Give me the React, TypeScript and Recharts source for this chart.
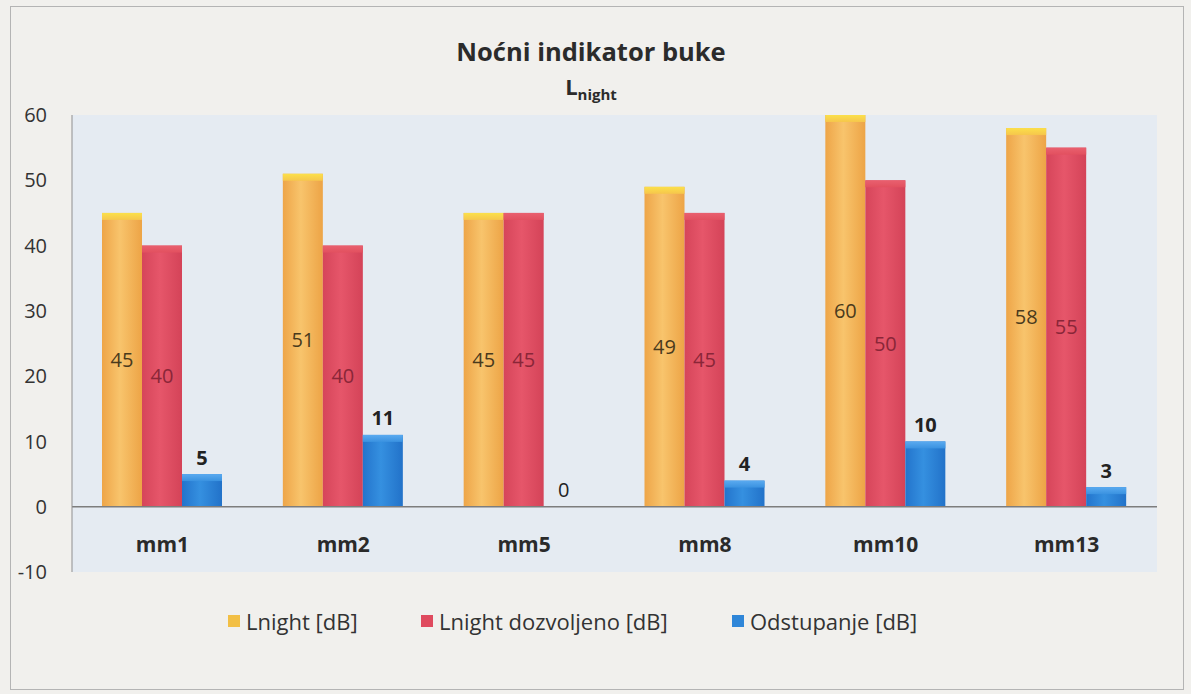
import React from "react";
import {
  BarChart,
  Bar,
  XAxis,
  YAxis,
  CartesianGrid,
  ReferenceLine,
  LabelList,
  Legend,
} from "recharts";

const categories = ["mm1", "mm2", "mm5", "mm8", "mm10", "mm13"];
const lnight = [45, 51, 45, 49, 60, 58];
const lnightAllowed = [40, 40, 45, 45, 50, 55];
const deviation = [5, 11, 0, 4, 10, 3];
const yTicks = [-10, 0, 10, 20, 30, 40, 50, 60];
const seriesNames = ["Lnight [dB]", "Lnight dozvoljeno [dB]", "Odstupanje [dB]"];

const data = categories.map((c, i) => ({
  name: c,
  lnight: lnight[i],
  allowed: lnightAllowed[i],
  dev: deviation[i],
}));

const FONT = "'Open Sans', Lato, sans-serif";

const makeShape = (grad: string, cap: string) => (props: any) => {
  const { x, y, width, height } = props;
  if (!height || height <= 0) return <g />;
  const capH = Math.min(7, height);
  return (
    <g>
      <rect x={x} y={y} width={width} height={height} fill={`url(#${grad})`} />
      <rect x={x} y={y} width={width} height={capH} fill={`url(#${cap})`} />
    </g>
  );
};

const orangeShape = makeShape("gOrange", "cOrange");
const redShape = makeShape("gRed", "cRed");
const blueShape = makeShape("gBlue", "cBlue");

const CatTick = (props: any) => {
  const { x, y, payload } = props;
  return (
    <text
      x={x}
      y={y - 27}
      dy="0.35em"
      textAnchor="middle"
      fontFamily={FONT}
      fontWeight={700}
      fontSize={21}
      fill="#2a2a2a"
    >
      {payload.value}
    </text>
  );
};

const BlueLabel = (props: any) => {
  const { x, y, width, value } = props;
  return (
    <text
      x={x + width / 2}
      y={y - 17}
      textAnchor="middle"
      dominantBaseline="central"
      fontFamily={FONT}
      fontWeight={value === 0 ? 400 : 700}
      fontSize={20}
      fill="#222"
    >
      {value}
    </text>
  );
};

const legendColors = ["#f2bf45", "#df4a5e", "#2f86d8"];
const legendWidths = [193, 311, 260];

const LegendContent = () => (
  <div style={{ display: "flex", alignItems: "center", fontFamily: FONT, fontSize: 22, color: "#333" }}>
    {seriesNames.map((n, i) => (
      <div key={n} style={{ display: "flex", alignItems: "center", width: legendWidths[i] }}>
        <span
          style={{
            display: "inline-block",
            width: 12,
            height: 12,
            background: legendColors[i],
            marginRight: 6,
          }}
        />
        <span>{n}</span>
      </div>
    ))}
  </div>
);

export default function App() {
  return (
    <div
      style={{
        position: "absolute",
        left: 0,
        top: 0,
        width: 1191,
        height: 694,
        background: "#f1f0ed",
        overflow: "hidden",
      }}
    >
      <div
        style={{
          position: "absolute",
          left: 10,
          top: 6,
          width: 1174,
          height: 684,
          border: "1px solid #b4b4b4",
          boxSizing: "border-box",
        }}
      />
      <div
        style={{
          position: "absolute",
          left: 0,
          width: 1182,
          top: 34,
          textAlign: "center",
          fontFamily: FONT,
          fontWeight: 700,
          fontSize: 25.5,
          color: "#2b2b2b",
        }}
      >
        Noćni indikator buke
      </div>
      <div
        style={{
          position: "absolute",
          left: 0,
          width: 1182,
          top: 71,
          textAlign: "center",
          fontFamily: FONT,
          fontWeight: 700,
          fontSize: 22,
          color: "#2b2b2b",
        }}
      >
        L<sub style={{ fontSize: 15 }}>night</sub>
      </div>
      <div style={{ position: "absolute", left: 0, top: 0 }}>
        <BarChart
          width={1191}
          height={694}
          data={data}
          margin={{ top: 115, right: 34, bottom: 92, left: 0 }}
          barSize={40}
          barGap={0}
        >
          <defs>
            <linearGradient id="gOrange" x1="0" y1="0" x2="1" y2="0">
              <stop offset="0%" stopColor="#eea548" />
              <stop offset="45%" stopColor="#f8c46c" />
              <stop offset="100%" stopColor="#eda446" />
            </linearGradient>
            <linearGradient id="cOrange" x1="0" y1="0" x2="0" y2="1">
              <stop offset="0%" stopColor="#fbe04a" />
              <stop offset="100%" stopColor="#f6c64c" />
            </linearGradient>
            <linearGradient id="gRed" x1="0" y1="0" x2="1" y2="0">
              <stop offset="0%" stopColor="#d6455a" />
              <stop offset="45%" stopColor="#e6566a" />
              <stop offset="100%" stopColor="#d44358" />
            </linearGradient>
            <linearGradient id="cRed" x1="0" y1="0" x2="0" y2="1">
              <stop offset="0%" stopColor="#e9606f" />
              <stop offset="100%" stopColor="#e2505f" />
            </linearGradient>
            <linearGradient id="gBlue" x1="0" y1="0" x2="1" y2="0">
              <stop offset="0%" stopColor="#2374cc" />
              <stop offset="45%" stopColor="#3590e0" />
              <stop offset="100%" stopColor="#2272c9" />
            </linearGradient>
            <linearGradient id="cBlue" x1="0" y1="0" x2="0" y2="1">
              <stop offset="0%" stopColor="#5aaaf0" />
              <stop offset="100%" stopColor="#3a92e0" />
            </linearGradient>
          </defs>
          <CartesianGrid fill="#e5ebf2" horizontal={false} vertical={false} />
          <XAxis
            dataKey="name"
            axisLine={false}
            tickLine={false}
            tickSize={0}
            tickMargin={0}
            height={30}
            tick={<CatTick />}
            interval={0}
          />
          <YAxis
            domain={[-10, 60]}
            ticks={yTicks}
            width={72}
            tickLine={false}
            tickSize={0}
            tickMargin={25}
            axisLine={{ stroke: "#8f8f8f" }}
            tick={{ fontFamily: FONT, fontSize: 20, fill: "#333" }}
            interval={0}
          />
          <ReferenceLine y={0} stroke="#7d7d7d" strokeWidth={1.5} />
          <Legend
            verticalAlign="middle"
            content={<LegendContent />}
            wrapperStyle={{ left: 228, top: 606, width: 900 }}
          />
          <Bar dataKey="lnight" name={seriesNames[0]} shape={orangeShape} isAnimationActive={false}>
            <LabelList
              dataKey="lnight"
              position="center"
              style={{ fontFamily: FONT, fontSize: 20, fill: "#4a3a1c" }}
            />
          </Bar>
          <Bar dataKey="allowed" name={seriesNames[1]} shape={redShape} isAnimationActive={false}>
            <LabelList
              dataKey="allowed"
              position="center"
              style={{ fontFamily: FONT, fontSize: 20, fill: "#8a2638" }}
            />
          </Bar>
          <Bar dataKey="dev" name={seriesNames[2]} shape={blueShape} isAnimationActive={false}>
            <LabelList dataKey="dev" content={<BlueLabel />} />
          </Bar>
        </BarChart>
      </div>
    </div>
  );
}
